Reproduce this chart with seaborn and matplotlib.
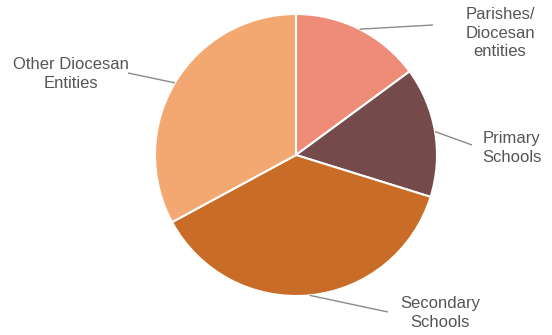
import numpy as np
import matplotlib
matplotlib.use("Agg")
import matplotlib.pyplot as plt
import seaborn as sns

categories = ["Parishes/\nDiocesan\nentities", "Primary\nSchools", "Secondary\nSchools", "Other Diocesan\nEntities"]
values = [14.9, 14.9, 37.3, 32.9]
colors = ["#EE8C78", "#744A4A", "#C86C28", "#F2A870"]

sns.set_theme(style="white")
plt.rcParams['font.family'] = ['Liberation Sans', 'DejaVu Sans']

W, H = 552, 335
fig = plt.figure(figsize=(W / 100, H / 100), dpi=100)
ax = fig.add_axes([0, 0, 1, 1])

cx, cy, r = 296, H - 155, 141
wedges, _ = ax.pie(values, colors=colors, startangle=90, counterclock=False,
                   center=(cx, cy), radius=r, frame=True,
                   wedgeprops=dict(edgecolor="white", linewidth=1.5))
ax.set_xlim(0, W)
ax.set_ylim(0, H)
ax.set_aspect('equal')
ax.axis('off')

# label layout (pixel positions, y from top)
line_ends = [(433, 25), (472, 145), (388, 312), (128, 73)]
text_pos = [(500, 33), (512, 148), (440, 313), (71, 74)]

for w, lab, le, tp in zip(wedges, categories, line_ends, text_pos):
    ang = np.deg2rad((w.theta1 + w.theta2) / 2)
    sx, sy = cx + r * np.cos(ang), cy + r * np.sin(ang)
    ax.plot([sx, le[0]], [sy, H - le[1]], color="#8a8a8a", lw=1.0, solid_capstyle='butt')
    ax.text(tp[0], H - tp[1], lab, ha="center", va="center", fontsize=12,
            color="#555555", linespacing=1.3)

fig.savefig("out.png", dpi=100)
